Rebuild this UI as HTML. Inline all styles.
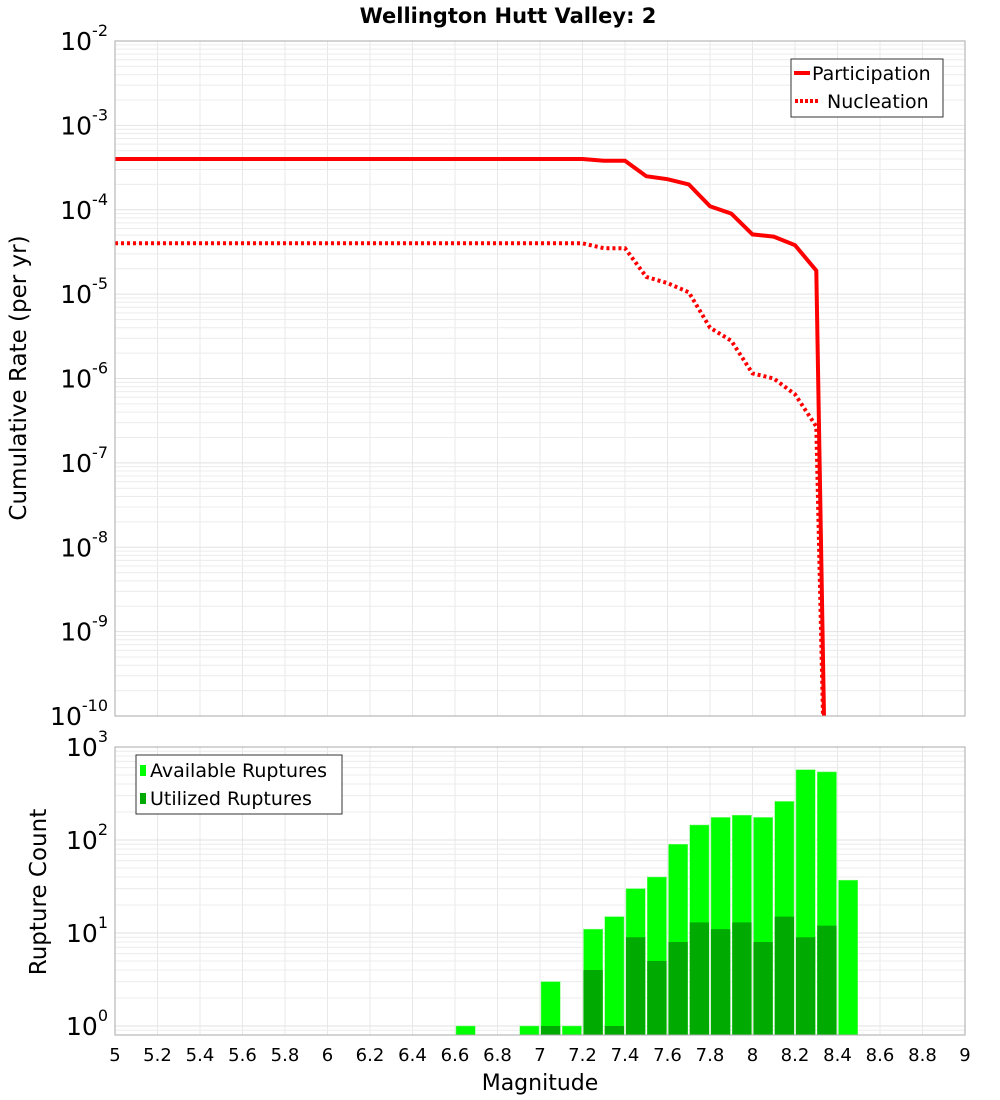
<!DOCTYPE html>
<html><head><meta charset="utf-8"><style>
body{margin:0;background:#fff;}
svg{display:block;font-family:"Liberation Sans","DejaVu Sans",sans-serif;}
</style></head><body>
<svg id="chart" width="1000" height="1100" xmlns="http://www.w3.org/2000/svg">
<text x="508" y="23" text-anchor="middle" font-size="21" font-weight="bold" font-family="DejaVu Sans,sans-serif">Wellington Hutt Valley: 2</text>
<g id="topPlot"></g>
<g id="botPlot"></g>
<text transform="translate(26,378) rotate(-90)" text-anchor="middle" font-size="23" font-family="DejaVu Sans,sans-serif">Cumulative Rate (per yr)</text>
<text transform="translate(46,892) rotate(-90)" text-anchor="middle" font-size="23" font-family="DejaVu Sans,sans-serif">Rupture Count</text>
<text x="540" y="1090" text-anchor="middle" font-size="22" font-family="DejaVu Sans,sans-serif">Magnitude</text>
</svg>
<script>
const mags = [5.0,5.1,5.2,5.3,5.4,5.5,5.6,5.7,5.8,5.9,6.0,6.1,6.2,6.3,6.4,6.5,6.6,6.7,6.8,6.9,7.0,7.1,7.2,7.3,7.4,7.5,7.6,7.7,7.8,7.9,8.0,8.1,8.2,8.3,8.35];
const participation = [4e-4,4e-4,4e-4,4e-4,4e-4,4e-4,4e-4,4e-4,4e-4,4e-4,4e-4,4e-4,4e-4,4e-4,4e-4,4e-4,4e-4,4e-4,4e-4,4e-4,4e-4,4e-4,4e-4,3.8e-4,3.8e-4,2.5e-4,2.3e-4,2.0e-4,1.1e-4,9e-5,5.1e-5,4.8e-5,3.8e-5,1.9e-5,1e-12];
const nucleation = [4e-5,4e-5,4e-5,4e-5,4e-5,4e-5,4e-5,4e-5,4e-5,4e-5,4e-5,4e-5,4e-5,4e-5,4e-5,4e-5,4e-5,4e-5,4e-5,4e-5,4e-5,4e-5,4e-5,3.5e-5,3.5e-5,1.6e-5,1.35e-5,1.05e-5,4e-6,2.8e-6,1.15e-6,1.0e-6,6.5e-7,2.7e-7,1e-12];
const binStarts = [6.6,6.9,7.0,7.1,7.2,7.3,7.4,7.5,7.6,7.7,7.8,7.9,8.0,8.1,8.2,8.3,8.4];
const available = [1,1,3,1,11,15,30,40,90,145,175,185,175,260,570,540,37];
const utilized = [0,0,1,0,4,1,9,5,8,13,11,13,8,15,9,12,0];
const xTicks = [5,5.2,5.4,5.6,5.8,6,6.2,6.4,6.6,6.8,7,7.2,7.4,7.6,7.8,8,8.2,8.4,8.6,8.8,9];
const xTickLabels = ["5","5.2","5.4","5.6","5.8","6","6.2","6.4","6.6","6.8","7","7.2","7.4","7.6","7.8","8","8.2","8.4","8.6","8.8","9"];
const topExps = [-2,-3,-4,-5,-6,-7,-8,-9,-10];
const botExps = [0,1,2,3];

const NS="http://www.w3.org/2000/svg";
const L=115,R=965;
const T1=41,B1=716,T2=747,B2=1035;
const xs=m=>L+(m-5)/4*(R-L);
const y1=v=>T1+(-2-Math.log10(v))*(B1-T1)/8;
const y2=v=>T2+(3-Math.log10(v))*((1026-747)/3);
function mk(tag,attrs,parent){const e=document.createElementNS(NS,tag);for(const k in attrs)e.setAttribute(k,attrs[k]);parent.appendChild(e);return e;}
const gTop=document.getElementById('topPlot'),gBot=document.getElementById('botPlot');

const defs=mk('defs',{},document.getElementById('chart'));
const cp=mk('clipPath',{id:'c1'},defs);mk('rect',{x:L,y:T1,width:R-L,height:B1-T1},cp);

function grid(g,T,B,yf,lo,hi){
  for(const t of xTicks){const gl=mk('line',{x1:xs(t),x2:xs(t),y1:T,y2:B,stroke:'#e8e8e8','stroke-width':1},g);
    
    }
  for(let e=lo;e<hi;e++)for(let k=1;k<10;k++){const v=k*Math.pow(10,e);const yy=yf(v);if(yy<T||yy>B)continue;
    const gl=mk('line',{x1:L,x2:R,y1:yy,y2:yy,stroke:k==1?'#e2e2e2':'#ececec','stroke-width':1},g);
    
    }
}
grid(gTop,T1,B1,y1,-10,-2);
grid(gBot,T2,B2,y2,-1,3);

function line(arr,dash,name){
  const d=mags.map((m,i)=>(i?'L':'M')+xs(m).toFixed(1)+','+y1(arr[i]).toFixed(1)).join(' ');
  const p=mk('path',{d:d,fill:'none',stroke:'#ff0000','stroke-width':4,'clip-path':'url(#c1)'},gTop);
  if(dash)p.setAttribute('stroke-dasharray','3,3');
  
  
}
line(participation,false,'participation-line');
line(nucleation,true,'nucleation-line');

binStarts.forEach((m,i)=>{
  const x0=xs(m)+1,w=xs(m+0.1)-xs(m)-2;
  if(available[i]>0){const yy=y2(available[i]);
    const r=mk('rect',{x:x0,y:yy,width:w,height:B2-yy,fill:'#00ff00',stroke:'#7cfc7c','stroke-width':0.5},gBot);
    
    }
  if(utilized[i]>0){const yy=y2(utilized[i]);
    const r=mk('rect',{x:x0,y:yy,width:w,height:B2-yy,fill:'#00aa00'},gBot);
    
    }
});

mk('rect',{x:L,y:T1,width:R-L,height:B1-T1,fill:'none',stroke:'#aaaaaa','stroke-width':1},gTop);
mk('rect',{x:L,y:T2,width:R-L,height:B2-T2,fill:'none',stroke:'#aaaaaa','stroke-width':1},gBot);

function ylab(g,e,yy){
  const t=mk('text',{x:108,y:yy+9,'text-anchor':'end','font-size':25,'font-family':'DejaVu Sans,sans-serif'},g);
  
  
  t.appendChild(document.createTextNode('10'));
  const s=mk('tspan',{dy:-14,'font-size':16},t);s.textContent=String(e);
}
topExps.forEach(e=>ylab(gTop,e,y1(Math.pow(10,e))));
botExps.forEach(e=>ylab(gBot,e,y2(Math.pow(10,e))));

xTicks.forEach((t,i)=>{const tx=mk('text',{x:xs(t),y:1061,'text-anchor':'middle','font-size':18,'font-family':'DejaVu Sans,sans-serif'},gBot);
  
  
  tx.textContent=xTickLabels[i];});

const lg1=mk('g',{},gTop);


mk('rect',{x:791,y:59,width:152,height:58,fill:'#fff',stroke:'#333','stroke-width':1},lg1);
mk('line',{x1:794,x2:810,y1:73,y2:73,stroke:'#f00','stroke-width':4},lg1);
mk('line',{x1:795,x2:820,y1:101,y2:101,stroke:'#f00','stroke-width':4,'stroke-dasharray':'3,2'},lg1);
let t=mk('text',{x:812,y:80,'font-size':19,'font-family':'DejaVu Sans,sans-serif'},lg1);t.textContent='Participation';
t=mk('text',{x:827,y:108,'font-size':19,'font-family':'DejaVu Sans,sans-serif'},lg1);t.textContent='Nucleation';

const lg2=mk('g',{},gBot);


mk('rect',{x:136,y:755,width:206,height:59,fill:'#fff',stroke:'#333','stroke-width':1},lg2);
mk('rect',{x:140,y:765,width:6,height:11,fill:'#00ff00'},lg2);
mk('rect',{x:140,y:793,width:6,height:11,fill:'#00aa00'},lg2);
t=mk('text',{x:150,y:777,'font-size':19,'font-family':'DejaVu Sans,sans-serif'},lg2);t.textContent='Available Ruptures';
t=mk('text',{x:150,y:805,'font-size':19,'font-family':'DejaVu Sans,sans-serif'},lg2);t.textContent='Utilized Ruptures';
</script>
</body></html>
